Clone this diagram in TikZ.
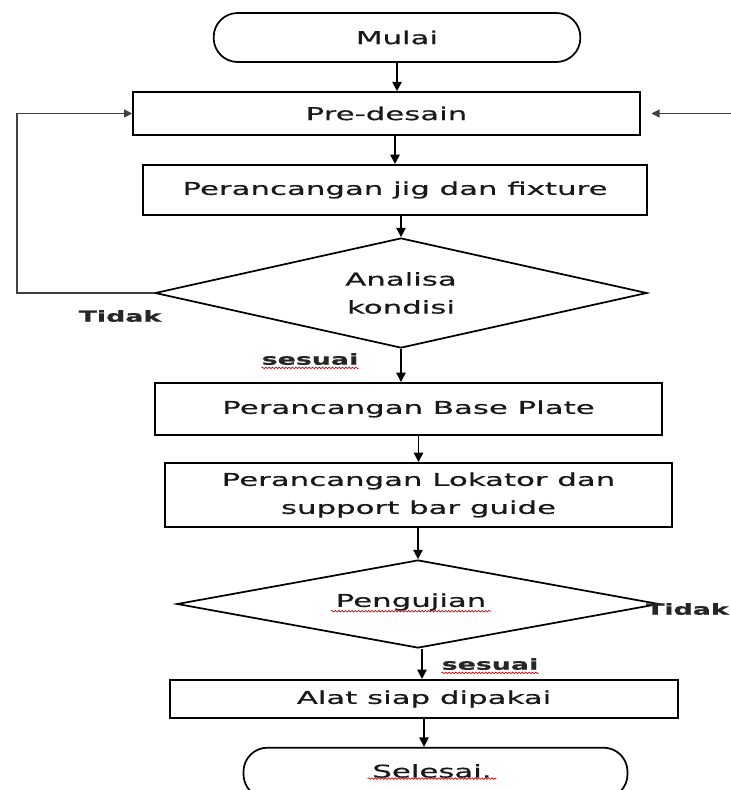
\documentclass[tikz,border=0pt]{standalone}
\usepackage{fontspec}
\setmainfont[FakeStretch=1.75,FakeBold=0.6]{DejaVu Sans}
\usetikzlibrary{arrows.meta,shapes.geometric,calc,decorations.pathmorphing}
\begin{document}
\begin{tikzpicture}[x=0.75pt,y=-0.75pt,
  txt/.style={font=\fontsize{13.2}{21}\selectfont,text=black!90,align=center},
  box/.style={draw,line width=1.5pt,rectangle,inner sep=0pt,txt},
  term/.style={draw,line width=1.3pt,rectangle,rounded corners=18pt,inner sep=0pt,txt},
  dec/.style={draw,line width=1.3pt,diamond,aspect=4.5,inner sep=0pt,txt},
  arr/.style={line width=1.2pt,-{Triangle[length=7pt,width=7pt]}},
  loopline/.style={line width=0.8pt,draw=black!75,-{Triangle[length=6pt,width=6pt]}},
  lbl/.style={font=\fontsize{11.5}{13}\selectfont\bfseries,text=black!85,inner sep=0pt},
  wavy/.style={draw=red!80!black,line width=0.5pt,decorate,decoration={snake,amplitude=0.6pt,segment length=2.5pt}}]
\useasboundingbox (0,0) rectangle (731,790);
\fill[white] (0,0) rectangle (731,790);

\node[term,minimum width=275pt,minimum height=36.75pt] (mulai) at (397,37.5) {Mulai};
\node[box,minimum width=380pt,minimum height=32pt] (pre) at (386.5,113.5) {Pre-desain};
\node[box,minimum width=378pt,minimum height=37.5pt] (jig) at (395,190) {Perancangan jig dan fixture};
\node[dec,minimum width=369pt,minimum height=82.5pt] (d1) at (401,293) {Analisa\\kondisi};
\node[box,minimum width=380pt,minimum height=39pt] (base) at (408.5,409) {Perancangan Base Plate};
\node[box,minimum width=380pt,minimum height=48pt] (lok) at (418.5,495) {Perancangan Lokator dan\\support bar guide};
\node[dec,minimum width=361.5pt,minimum height=66pt] (d2) at (418,604) {};
\node[txt] (d2t) at (411,602) {Pengujian};
\node[box,minimum width=381pt,minimum height=28.5pt] (alat) at (424,699) {Alat siap dipakai};
\node[term,minimum width=288pt,minimum height=38pt] (sel) at (435.5,773) {};
\node[txt] (selt) at (432,771) {Selesai.};

\draw[arr] (mulai.south) -- (mulai.south |- pre.north);
\draw[arr] (jig.north |- pre.south) -- (jig.north);
\draw[arr] (d1.north |- jig.south) -- (d1.north);
\draw[arr] (d1.south) -- (d1.south |- base.north);
\draw[arr] (lok.north |- base.south) -- (lok.north);
\draw[arr] (d2.north |- lok.south) -- (d2.north);
\draw[arr] ([xshift=3pt]d2.south) -- ([xshift=3pt]d2.south |- alat.north);
\draw[arr] (alat.south) -- (alat.south |- sel.north);

\coordinate (lx) at (17,0);
\draw[loopline] (d1.west) -- (d1.west -| lx) -- (lx |- pre.west) -- (pre.west);
\coordinate (rin) at (731,112);
\draw[loopline,shorten >=8pt] (rin |- pre.east) -- (pre.east);

\node[lbl] (t1) at (120,316) {Tidak};
\node[lbl] (s1) at (310,359) {sesuai};
\node[lbl,anchor=east] (t2) at (729,609) {Tidak};
\node[lbl] (s2) at (490,664) {sesuai};

\draw[wavy] ([yshift=-2pt]s1.south west) -- ([yshift=-2pt]s1.south east);
\draw[wavy] ([yshift=-2pt]s2.south west) -- ([yshift=-2pt]s2.south east);
\draw[wavy] ([yshift=3pt]d2t.south west) -- ([yshift=3pt]d2t.south east);
\draw[wavy] ([yshift=3pt]selt.south west) -- ([yshift=3pt]selt.south east);
\end{tikzpicture}
\end{document}
